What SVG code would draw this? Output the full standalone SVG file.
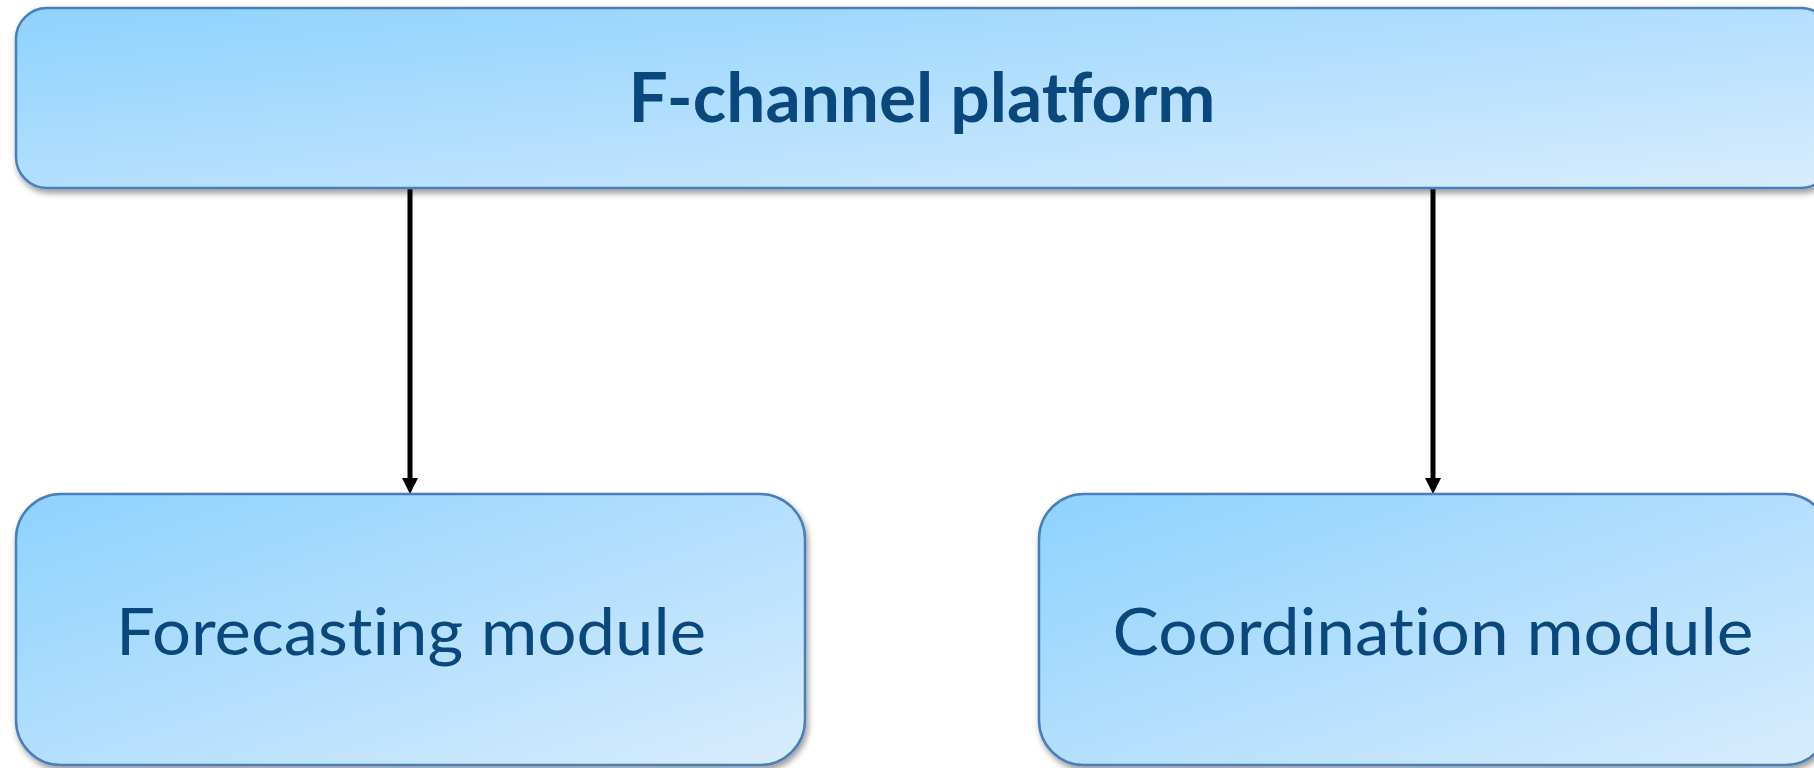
<svg xmlns="http://www.w3.org/2000/svg" width="1814" height="768" viewBox="0 0 1814 768">
<defs>
<linearGradient id="g" x1="0" y1="0" x2="1" y2="1">
<stop offset="0" stop-color="#8ed2fe"/>
<stop offset="1" stop-color="#d8ecfd"/>
</linearGradient>
<filter id="sh" x="-5%" y="-5%" width="110%" height="115%">
<feGaussianBlur in="SourceAlpha" stdDeviation="3"/>
<feOffset dx="2" dy="4" result="b"/>
<feComponentTransfer><feFuncA type="linear" slope="0.4"/></feComponentTransfer>
<feMerge><feMergeNode/><feMergeNode in="SourceGraphic"/></feMerge>
</filter>
</defs>
<style>
.box{fill:url(#g);stroke:#4a7ebb;stroke-width:2.5;filter:url(#sh)}
.t{fill:#0a477c;font-family:Lato,"Open Sans","Liberation Sans",sans-serif;text-anchor:middle;font-variant-ligatures:none;font-feature-settings:"liga" 0}
.c{stroke:#000;stroke-width:5;fill:none}
.ah{fill:#000}
</style>
<g id="connectors">
<line class="c" x1="410" y1="188" x2="410" y2="480"/>
<path class="ah" d="M402,478 L418,478 L410,494 Z"/>
<line class="c" x1="1433" y1="188" x2="1433" y2="480"/>
<path class="ah" d="M1425,478 L1441,478 L1433,494 Z"/>
</g>
<g id="platform">
<rect class="box" x="16" y="8" width="1816" height="180" rx="31" ry="31"/>
<text class="t" x="922" y="122" font-size="68" font-weight="bold" textLength="587" lengthAdjust="spacingAndGlyphs">F-channel platform</text>
</g>
<g id="forecasting">
<rect class="box" x="16" y="494" width="789" height="271" rx="45" ry="45"/>
<text class="t" x="411" y="655" font-size="66" textLength="590" lengthAdjust="spacingAndGlyphs">Forecasting module</text>
</g>
<g id="coordination">
<rect class="box" x="1039" y="494" width="791" height="271" rx="45" ry="45"/>
<text class="t" x="1433" y="655" font-size="66" textLength="641" lengthAdjust="spacingAndGlyphs">Coordination module</text>
</g>
</svg>
